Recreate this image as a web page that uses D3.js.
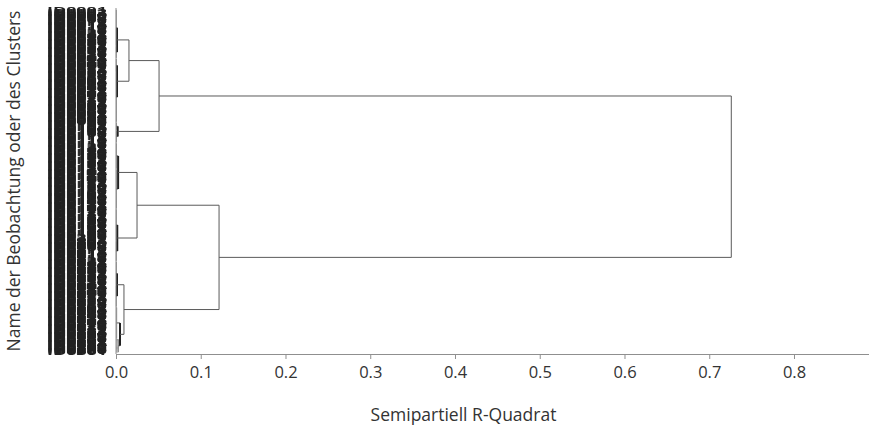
<!DOCTYPE html>
<html>
<head>
<meta charset="utf-8">
<script src="https://cdn.jsdelivr.net/npm/d3@7"></script>
<style>
  html, body { margin: 0; padding: 0; background: #fff; }
  svg { display: block; font-family: "Open Sans", "Noto Sans", Lato, sans-serif; }
</style>
</head>
<body>
<svg id="chart" width="869" height="427"></svg>
<script>
// ---- data ----
// smallest leaf groups (top to bottom) and how many observations each holds
const groupNames  = ["g1","g2","g3","g4","g5","g6","g7","g8","g9","g10","g11","g12","g13","g14"];
const groupCounts = [32, 11, 12, 44, 7, 11, 23, 35, 28, 18, 21, 19, 28, 12];
// semipartial R² at which the observations inside each group are joined
const groupHeights = [0.0004,0.0004,0.0004,0.0005,0.0006,0.0006,0.0005,0.0005,0.0004,0.0004,0.0005,0.0004,0.0008,0.0030];
// cluster history: new cluster, left child, right child, semipartial R²
const mergeNames  = ["A1a","A1b","A2","B1a","B1b","B2a","B2b","A1","A","B1","B2","B","Root"];
const mergeLeft   = ["g1","g3","g5","g7","g9","g11","g13","A1a","A1","B1a","B2a","B1","A"];
const mergeRight  = ["g2","g4","g6","g8","g10","g12","g14","A1b","A2","B1b","B2b","B2","B"];
const mergeHeight = [0.0012,0.0012,0.0020,0.0025,0.0015,0.0012,0.0047,0.0153,0.0508,0.0248,0.0094,0.1216,0.726];
const xTicks = [0,0.1,0.2,0.3,0.4,0.5,0.6,0.7,0.8];
const xTitle = "Semipartiell R-Quadrat";
const yTitle = "Name der Beobachtung oder des Clusters";

// leaf labels (observation ids)
const totalLeaves = d3.sum(groupCounts);
const leafLabels = d3.range(1, totalLeaves + 1).map(i => "ID" + String(i).padStart(4, "0"));

// ---- layout ----
const svg = d3.select("#chart");
const mLeft = 116, mRight = 869, mTop = 8, mBottom = 354;
const x = d3.scaleLinear().domain([0, 0.8885]).range([mLeft, mRight]);
const y = d3.scalePoint().domain(leafLabels).range([mTop, mBottom]).padding(1.75);

const lineColor = "#5a5a5a";
const axisColor = "#8f8f8f";
const font = '"Open Sans", "Noto Sans", Lato, sans-serif';
const g = svg.append("g");

// groups
const nodes = {};
let idx = 0;
groupNames.forEach((name, i) => {
  const leaves = leafLabels.slice(idx, idx + groupCounts[i]);
  idx += groupCounts[i];
  const h = groupHeights[i];
  const ys = leaves.map(l => y(l));
  leaves.forEach(l => {
    g.append("line").attr("x1", x(0)).attr("x2", x(h)).attr("y1", y(l)).attr("y2", y(l))
      .attr("stroke", lineColor).attr("stroke-width", 0.6);
  });
  g.append("line").attr("x1", x(h)).attr("x2", x(h)).attr("y1", ys[0]).attr("y2", ys[ys.length - 1])
    .attr("stroke", axisColor).attr("stroke-width", 1);
  nodes[name] = { y: d3.mean(ys), h: h };
});

// merges
mergeNames.forEach((name, i) => {
  const a = nodes[mergeLeft[i]], b = nodes[mergeRight[i]], h = mergeHeight[i];
  const strong = h < 0.005;
  [a, b].forEach(c => {
    g.append("line").attr("x1", x(c.h)).attr("x2", x(h)).attr("y1", c.y).attr("y2", c.y)
      .attr("stroke", lineColor).attr("stroke-width", 1);
  });
  g.append("line").attr("x1", x(h)).attr("x2", x(h)).attr("y1", a.y).attr("y2", b.y)
    .attr("stroke", strong ? "#222" : lineColor).attr("stroke-width", strong ? 2 : 1);
  nodes[name] = { y: (a.y + b.y) / 2, h: h };
});

// x axis
const xAxis = svg.append("g").attr("transform", `translate(0,${mBottom})`)
  .call(d3.axisBottom(x).tickValues(xTicks).tickFormat(d3.format(".1f")).tickSizeOuter(0).tickSize(5).tickPadding(7));
xAxis.select(".domain").attr("stroke", axisColor);
xAxis.selectAll(".tick line").attr("stroke", axisColor);
xAxis.selectAll(".tick text").attr("fill", "#333").style("font-size", "16.5px").style("font-family", font);

// y axis with leaf names
const yAxis = svg.append("g").attr("transform", `translate(${mLeft},0)`).style("opacity", 0.999)
  .call(d3.axisLeft(y).tickSize(0).tickPadding(9));
yAxis.select(".domain").attr("stroke", axisColor).attr("d", `M0,${mTop}V${mBottom}`);
yAxis.selectAll(".tick text").attr("fill", "#222").style("font-size", "9px").style("font-weight", "bold")
  .style("font-family", font)
  .attr("textLength", 60).attr("lengthAdjust", "spacingAndGlyphs");

// titles
svg.append("text").attr("x", 463.5).attr("y", 421).attr("text-anchor", "middle")
  .attr("fill", "#333").style("font-size", "17.5px").style("font-family", font).text(xTitle);
svg.append("text").attr("transform", `translate(20,${(mTop + mBottom) / 2}) rotate(-90)`)
  .attr("text-anchor", "middle").attr("fill", "#333").style("font-size", "17.5px").style("font-family", font).text(yTitle);
</script>
</body>
</html>
